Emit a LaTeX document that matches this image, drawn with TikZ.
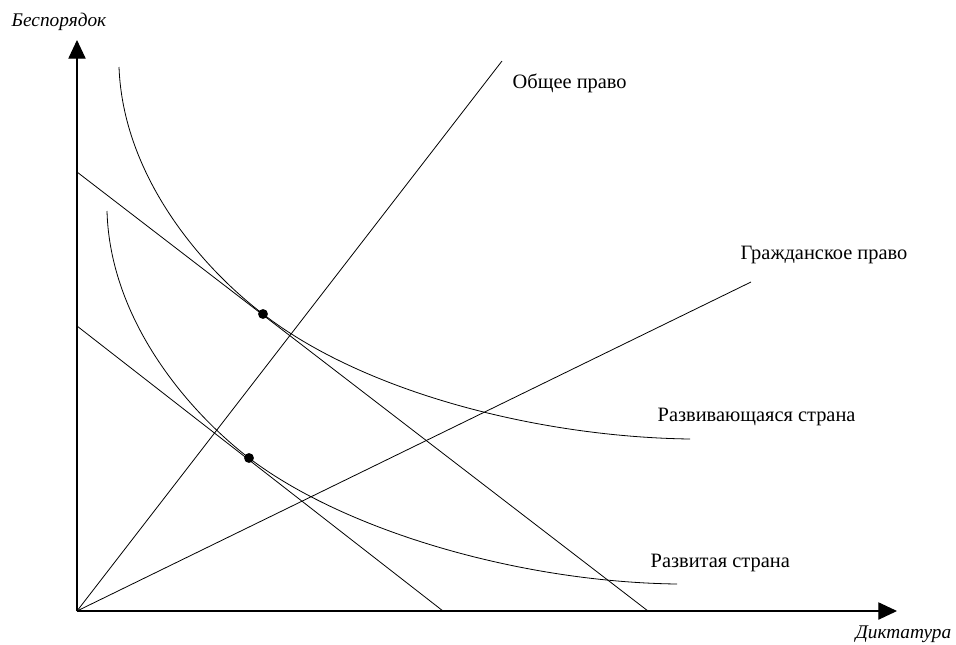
\documentclass[tikz,border=0pt]{standalone}
\usepackage{fontspec}
\setmainfont{Liberation Serif}
\usetikzlibrary{arrows.meta}

\begin{document}
\begin{tikzpicture}[x=0.75pt,y=-0.75pt,
    axis/.style={-{Triangle[width=13pt,length=14pt]},line width=0.8pt},
    thin line/.style={line width=0.6pt},
    dot/.style={circle,fill=black,inner sep=0pt,minimum size=7.4pt},
    lbl/.style={anchor=west,font=\fontsize{15.3}{18}\selectfont},
    axlbl/.style={font=\itshape\fontsize{14.5}{17}\selectfont}]
  \useasboundingbox (0,0) rectangle (956,644);
  % axes
  \coordinate (O) at (77,611);
  \coordinate (ytop) at (77,40);
  \coordinate (xend) at (897,611);
  \draw[axis] (O) -- (ytop);
  \draw[axis] (O) -- (xend);
  \node[axlbl,anchor=west] (ylab) at (7,22) {Беспорядок};
  \node[axlbl,anchor=east] (xlab) at (956,634) {Диктатура};
  % legal systems
  \coordinate (common) at (502,61);
  \coordinate (civil) at (751,282);
  \draw[thin line] (O) -- (common);
  \draw[thin line] (O) -- (civil);
  \node[lbl] (commonlab) at (508,83) {Общее право};
  \node[lbl] (civillab) at (736,255) {Гражданское право};
  % budget lines
  \coordinate (b1s) at (77,172);
  \coordinate (b1e) at (648,611);
  \coordinate (b2s) at (77,326);
  \coordinate (b2e) at (443,611);
  \draw[thin line] (b1s) -- (b1e);
  \draw[thin line] (b2s) -- (b2e);
  % curves
  \node[dot] (eqA) at (263,314) {};
  \node[dot] (eqB) at (249,458) {};
  \coordinate (c1s) at (119,67);
  \coordinate (c1e) at (690,439);
  \coordinate (c2s) at (107,211);
  \coordinate (c2e) at (677,584);
  \draw[thin line] (c1s) .. controls (123,175) and (200,266) .. (eqA.center)
    .. controls (365,393) and (540,437) .. (c1e);
  \draw[thin line] (c2s) .. controls (110,320) and (188,411) .. (eqB.center)
    .. controls (345,531) and (520,582) .. (c2e);
  \node[lbl] (devlab) at (653,417) {Развивающаяся страна};
  \node[lbl] (richlab) at (646,563) {Развитая страна};
\end{tikzpicture}
\end{document}
